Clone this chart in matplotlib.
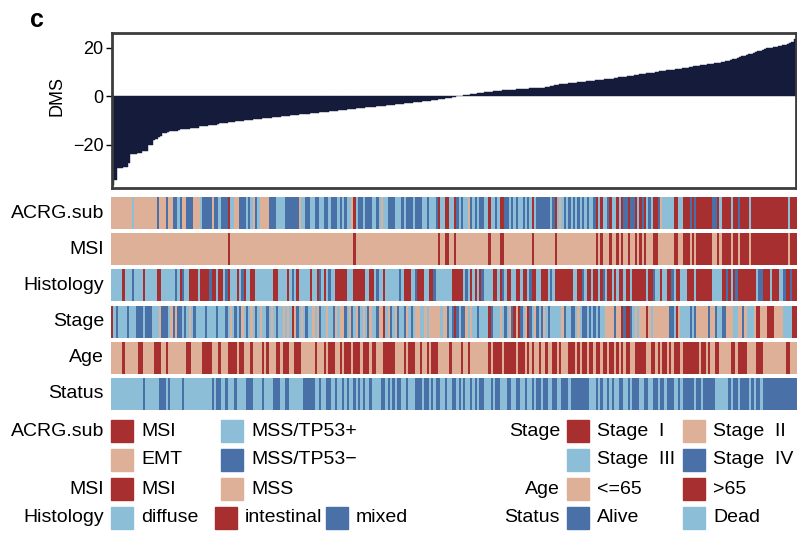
import numpy as np
import matplotlib.pyplot as plt
from matplotlib.colors import ListedColormap
from matplotlib.patches import Rectangle

plt.rcParams["font.family"] = ["Liberation Sans", "DejaVu Sans"]

# ==========================================
# colours
# ==========================================
RED = "#A82F2F"
PEACH = "#DEB098"
LBLUE = "#8DBED8"
DBLUE = "#4A70A8"
NAVY = "#151C3B"
CODES = "RPLB"
CODE_COLORS = [RED, PEACH, LBLUE, DBLUE]

# ==========================================
# data (samples sorted by DMS)
# ==========================================
dms = [
    -36.5, -34.5, -29.8, -29.6, -29.5, -29.4, -29.3, -27.5, -23.9, -23.8,
    -23.7, -23.6, -23.5, -22.6, -22.5, -22.4, -20.3, -20.0, -18.2, -17.8,
    -16.8, -16.4, -15.2, -15.0, -14.8, -14.5, -14.4, -14.3, -14.2, -14.1,
    -13.6, -13.5, -13.4, -13.3, -13.2, -13.1, -13.0, -12.9, -12.4, -12.3,
    -12.2, -12.1, -12.0, -11.9, -11.8, -11.7, -11.3, -11.2, -11.1, -11.0,
    -10.9, -10.8, -10.7, -10.4, -10.3, -10.2, -10.1, -10.0, -9.9, -9.8,
    -9.7, -9.6, -9.5, -9.4, -9.3, -9.2, -9.1, -9.0, -8.9, -8.8,
    -8.7, -8.6, -8.5, -8.4, -8.3, -8.2, -8.1, -8.0, -7.9, -7.8,
    -7.7, -7.6, -7.5, -7.4, -7.3, -7.2, -7.1, -7.0, -6.9, -6.8,
    -6.7, -6.6, -6.5, -6.4, -6.3, -6.2, -6.1, -6.0, -5.9, -5.8,
    -5.7, -5.6, -5.5, -5.4, -5.3, -5.2, -5.1, -5.0, -4.9, -4.8,
    -4.7, -4.6, -4.5, -4.4, -4.3, -4.2, -4.1, -4.0, -3.9, -3.8,
    -3.7, -3.6, -3.5, -3.4, -3.3, -3.2, -3.1, -3.0, -2.9, -2.8,
    -2.7, -2.6, -2.5, -2.4, -2.3, -2.2, -2.1, -2.0, -1.9, -1.8,
    -1.7, -1.55, -1.4, -1.25, -1.1, -0.95, -0.8, -0.65, -0.5, -0.35,
    -0.2, -0.05, 0.1, 0.25, 0.4, 0.55, 0.7, 0.85, 1.0, 1.1,
    1.2, 1.3, 1.45, 1.6, 1.75, 1.9, 2.0, 2.1, 2.25, 2.35,
    2.4, 2.5, 2.55, 2.6, 2.7, 2.75, 2.8, 2.9, 2.95, 3.0,
    3.1, 3.15, 3.2, 3.3, 3.35, 3.4, 3.5, 3.55, 3.6, 3.65,
    3.7, 4.0, 4.2, 4.4, 4.6, 4.8, 5.0, 5.1, 5.2, 5.3,
    5.4, 5.5, 5.6, 5.7, 5.8, 5.9, 6.0, 6.1, 6.2, 6.3,
    6.4, 6.5, 6.6, 6.7, 6.8, 6.9, 7.0, 7.1, 7.2, 7.35,
    7.5, 7.65, 7.8, 7.95, 8.1, 8.2, 8.3, 8.45, 8.6, 8.75,
    8.9, 9.05, 9.2, 9.35, 9.5, 9.6, 9.7, 9.85, 10.0, 10.15,
    10.3, 10.45, 10.6, 10.75, 10.9, 11.0, 11.1, 11.2, 11.3, 11.45,
    11.6, 11.75, 11.9, 12.05, 12.2, 12.35, 12.5, 12.65, 12.8, 12.95,
    13.1, 13.25, 13.4, 13.55, 13.7, 13.85, 14.0, 14.15, 14.3, 14.5,
    14.7, 15.0, 15.3, 15.6, 15.9, 16.2, 16.5, 16.8, 17.1, 17.4,
    17.7, 18.0, 18.3, 18.6, 18.9, 19.2, 19.6, 19.8, 20.0, 20.2,
    20.4, 20.6, 20.8, 21.0, 21.2, 21.4, 21.6, 21.9, 22.3, 23.7,
]

# R = dark red, P = peach, L = light blue, B = dark blue (see legend)
acrg_sub = (
    "PPPPPPPPPL PPPPPPPPPP BPPPBPPBBL BPPBBBPPPL BBBBPBBLBB "
    "BRLLPPBBBL BLPBLPPPPB BBLLLLBBBB BBPLLBBLLB BLLBBLBBBL "
    "BLBLLPRLBB LBBBLLBLPL LBBBLLLBLB BBLBBBLLBL LLBRLLRRLL "
    "RBLBLLPBLB LBBLLRLLBL RRBBLBLBLL BLBLRLBBBB BBLBRLPLBL "
    "BLBLBLBLBL LBRLRLLBRL LRLRBBRBBR LRBRLBLRRB PLLLLLRRLL "
    "RRRBRBRRRR RRRBBRLRRR RLRRBRRRRL RRRRRRRRRR RRRRRRLRRR"
)
msi = (
    "PPPPPPPPPP PPPPPPPPPP PPPPPPPPPP PPPPPPPPPP PPPPPPPPPP "
    "PRPPPPPPPP PPPPPPPPPP PPPPPPPPPP PPPPPPPPPP PPPPPPPPPP "
    "PPPPPPRPPP PPPPPPPPPP PPPPPPPPPP PPPPPPPPPP PPPRPPRRPP "
    "RPPPPPPPPP PPPPPRPPPP RRPPPPPPPP PPPPRPPPPP PPPPRPPPPP "
    "PPPPPPPPPP PPRPRPPPRP PRPRPPRPPR PRPRPPPRRP PPPPPPRRPP "
    "RRRPRPRRRR RRRPPRPRRR RPRRPRRRRP RRRRRRRRRR RRRRRRPRRR"
)
histology = (
    "LLLLLRLLLB LLLLRLLLLL RRLLLLLLBL RBLLRRRRLR RRRBRRLRRL "
    "BRLLLRLBRL LRRLLLLLLL LRRLLLLRLB LRLLLLLRLL RBLRLBLLRR "
    "RRRLLLRRRR RLLRRLBLLR LLLLLLBLRR RLLBRRRLLR RBLLLLLLLR "
    "RRRRLBLRLR LRBLLLLRRL RBLRRLLRRL RRLBRRLLRR RLBLRRRRRR "
    "RRLLRRBLRR LRRLRBLRRL RLRRLRRLRR RRRRLRRBLL RLLRRBLRRL "
    "LLRRRLRRRR RRRLLLLRRB RLRBRRRRRR RRLBBRRRLR RRLLBRRBRR"
)
stage = (
    "RLBLLLLBLL LBBBLBBBLL LPBBBLPBPB BLBLPLBLLL LBLLLLBLLL "
    "BLPLBLBPLB LPLBLPLLBL PLBLLPLPLR PBLPLBLLPL PBLLPLLBPL "
    "PPBLPBLPBL PLBPLLBPPR LPBLPBLLBP LBLPPLLPLP PPPPLPPBLB "
    "RBLBBPLPLL BLLLLRBLLL PLBLPBRPRB LPRBLPBLBP LBLLLLLPBL "
    "LBBLPLBBLB LBLBLLPPPP BPPRBRRBLP LPPPRPLPPP PPPPBBLRPL "
    "LLLBLBPPPP PBPPBLLBBP PPLLPPBPLL LPRRPPPRRR PPPPLLLLRR"
)
age = (
    "PPPPPRPPPP PPRRPPPPPR RRPPRPPPPP PPPRRPPPPP RRRRPPPRPP "
    "PRRRRPRRPP PRPPPPRPRP PPRRPRRRPP RRRPPPPPPR PPPRPRRRPP "
    "RPRRRPRRRP RRRPRRPPPR RRRRPPPPRP RRRPPRPPRP RRRPPPPPRP "
    "PPPRPPRPPP PPPPPRPRRR RPRRRRRPRR RPRPRPPRPP RPPRRPRPPP "
    "RRRPRPRRPR RPRRPRRPRR PRPRPRRPPR RRRRPPRRPR PRRPRPRRRP "
    "RRRRRRRPRR PRPPRRPPPP PRRPRRRRPP PPRRRPPPPP PPPPPRRPPP"
)
status = (
    "LLLLLLLLLL LLLLBLLLLL LBBBLBLLLL LBLLLLLLLL LLLLBLBBLL "
    "BLLLBLLLLB BBLLLLBLLL LBBBLLBBLL LLLLBBBBBL LBLLBBLLBL "
    "LBLBLLBLBL BLLBLLLLBB LBLBLBBLLB LLLBBBLBBL BLBBLLBLLB "
    "BLBLBLLBLB LBBLLLBLBB LLLBBLLBBL LBLLBLBBLB BLLBBLLBBB "
    "LBBBBBBBBL LLBLBLLBLB LLBBLLBLBB BLLBBLLBBL BBLBBBLLBL "
    "BBBBBLBBLB BBBBLLLLLL BLBBLBBBBL BLBBLBBBBB BBBBBBBBBB"
)

track_names = ["ACRG.sub", "MSI", "Histology", "Stage", "Age", "Status"]
track_codes = [acrg_sub, msi, histology, stage, age, status]

# legend: (label, [(category, colour code), ...])
legend_left = [
    ("ACRG.sub", [("MSI", "R"), ("MSS/TP53+", "L")]),
    ("", [("EMT", "P"), ("MSS/TP53\u2212", "B")]),
    ("MSI", [("MSI", "R"), ("MSS", "P")]),
    ("Histology", [("diffuse", "L"), ("intestinal", "R"), ("mixed", "B")]),
]
legend_right = [
    ("Stage", [("Stage  I", "R"), ("Stage  II", "P")]),
    ("", [("Stage  III", "L"), ("Stage  IV", "B")]),
    ("Age", [("<=65", "P"), (">65", "R")]),
    ("Status", [("Alive", "B"), ("Dead", "L")]),
]

N = len(dms)

# ==========================================
# figure
# ==========================================
W, H = 797, 538
fig = plt.figure(figsize=(W / 100, H / 100), dpi=100)


def px_axes(x0, y0, x1, y1):
    return fig.add_axes([x0 / W, 1 - y1 / H, (x1 - x0) / W, (y1 - y0) / H])


FS = 14
TICK_FS = 13

# --- DMS bars ---
ax = px_axes(112, 33, 796, 188)
ax.bar(np.arange(N), dms, width=1.0, align="edge", color=NAVY,
       edgecolor=NAVY, linewidth=0.3)
ax.set_xlim(0, N)
ax.set_ylim(-37.9, 26.2)
ax.set_yticks([-20, 0, 20])
ax.set_xticks([])
ax.tick_params(axis="y", labelsize=TICK_FS, length=4, width=1, pad=2)
for sp in ax.spines.values():
    sp.set_color("#3C3C3C")
    sp.set_linewidth(2)
fig.text(57 / W, 1 - 96 / H, "DMS", rotation=90, ha="center", va="center",
         fontsize=TICK_FS)
fig.text(37 / W, 1 - 20 / H, "c", ha="center", va="center",
         fontsize=18, fontweight="bold")

# --- annotation tracks ---
cmap = ListedColormap(CODE_COLORS)
tops = [197, 233, 269, 306, 342, 378]
for name, codes, top in zip(track_names, track_codes, tops):
    vals = np.array([CODES.index(c) for c in codes.replace(" ", "")])
    assert len(vals) == N, (name, len(vals))
    tax = px_axes(111, top, 797, top + 32)
    tax.pcolormesh(np.arange(N + 1), [0, 1], vals[None, :], cmap=cmap,
                   vmin=-0.5, vmax=3.5, shading="flat")
    tax.set_xlim(0, N)
    tax.set_axis_off()
    fig.text(104 / W, 1 - (top + 16) / H, name, ha="right", va="center",
             fontsize=FS)

# --- legend ---
lax = fig.add_axes([0, 0, 1, 1])
lax.set_xlim(0, W)
lax.set_ylim(H, 0)
lax.set_axis_off()

row_y = [431, 460, 489, 518]
SQ = 22


def draw_legend(rows, label_x, col_x):
    for (label, items), y in zip(rows, row_y):
        if label:
            lax.text(label_x, y, label, ha="right", va="center", fontsize=FS)
        xs = col_x if len(items) == 2 else [111, 215, 326]
        for (cat, code), x in zip(items, xs):
            lax.add_patch(Rectangle((x, y - SQ / 2), SQ, SQ,
                                    color=CODE_COLORS[CODES.index(code)]))
            lax.text(x + SQ + 8, y, cat, ha="left", va="center", fontsize=FS)


draw_legend(legend_left, 104, [111, 221])
draw_legend(legend_right, 560, [567, 683])

fig.savefig("out.png", dpi=100)
